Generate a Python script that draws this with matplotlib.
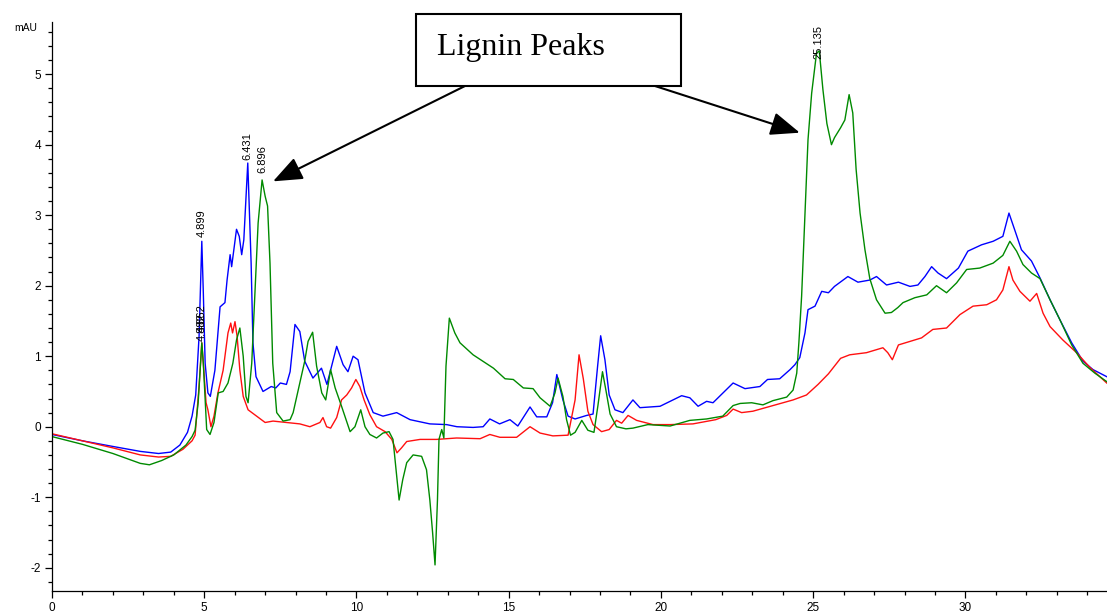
import numpy as np
import matplotlib
matplotlib.use("Agg")
import matplotlib.pyplot as plt
from matplotlib.patches import Rectangle
from matplotlib.ticker import MultipleLocator

plt.rcParams["axes.unicode_minus"] = False

# retention time (min) / absorbance (mAU)
blue_t = [0, 1.0, 2.0, 2.9, 3.5, 3.9, 4.2, 4.45, 4.6, 4.72, 4.83, 4.92, 4.97, 5.03, 5.12, 5.2,
          5.35, 5.52, 5.68, 5.75, 5.85, 5.9, 6.06, 6.15, 6.23, 6.3, 6.43, 6.54, 6.6, 6.7, 6.93,
          7.2, 7.35, 7.5, 7.7, 7.82, 7.98, 8.14, 8.3, 8.57, 8.85, 9.03, 9.35, 9.56, 9.72, 9.89,
          10.05, 10.28, 10.55, 10.87, 11.32, 11.76, 12.41, 12.96, 13.3, 13.83, 14.16, 14.38,
          14.7, 15.04, 15.3, 15.7, 15.92, 16.25, 16.44, 16.58, 16.78, 16.95, 17.18, 17.56,
          17.77, 17.92, 18.02, 18.16, 18.3, 18.49, 18.75, 19.08, 19.31, 19.97, 20.68, 20.95,
          21.22, 21.5, 21.71, 22.37, 22.76, 23.25, 23.5, 23.9, 24.24, 24.4, 24.56, 24.73, 24.83,
          25.06, 25.28, 25.5, 25.7, 26.14, 26.47, 26.86, 27.08, 27.41, 27.8, 28.18, 28.44,
          28.67, 28.89, 29.1, 29.38, 29.77, 30.08, 30.53, 30.91, 31.23, 31.43, 31.62, 31.84,
          32.17, 32.45, 32.78, 33.1, 33.49, 33.86, 34.19, 34.64]
blue_v = [-0.11, -0.2, -0.28, -0.35, -0.38, -0.36, -0.26, -0.08, 0.15, 0.45, 1.28, 2.63, 1.9,
          0.9, 0.48, 0.43, 0.8, 1.7, 1.76, 2.08, 2.44, 2.27, 2.8, 2.7, 2.44, 2.65, 3.74, 2.32,
          1.19, 0.71, 0.5, 0.57, 0.55, 0.62, 0.6, 0.78, 1.45, 1.35, 0.93, 0.69, 0.83, 0.6, 1.14,
          0.88, 0.78, 1.0, 0.95, 0.48, 0.2, 0.15, 0.2, 0.1, 0.04, 0.03, 0.0, -0.01, 0.0, 0.11,
          0.04, 0.1, 0.01, 0.28, 0.14, 0.14, 0.34, 0.74, 0.38, 0.15, 0.11, 0.16, 0.18, 0.86,
          1.29, 0.95, 0.45, 0.24, 0.2, 0.38, 0.27, 0.29, 0.44, 0.41, 0.29, 0.36, 0.34, 0.62,
          0.54, 0.57, 0.67, 0.68, 0.81, 0.88, 0.98, 1.33, 1.66, 1.71, 1.92, 1.9, 1.99, 2.13,
          2.05, 2.08, 2.13, 2.01, 2.05, 1.99, 2.01, 2.13, 2.27, 2.18, 2.1, 2.25, 2.49, 2.58,
          2.63, 2.7, 3.03, 2.79, 2.51, 2.35, 2.11, 1.8, 1.52, 1.19, 0.93, 0.81, 0.71]

red_t = [0, 1.0, 2.0, 2.9, 3.5, 3.9, 4.3, 4.6, 4.7, 4.83, 4.92, 4.97, 5.06, 5.12, 5.22, 5.32,
         5.45, 5.62, 5.78, 5.87, 5.93, 6.01, 6.08, 6.17, 6.28, 6.44, 6.72, 7.0, 7.26, 7.7, 8.14,
         8.47, 8.8, 8.9, 9.02, 9.15, 9.35, 9.51, 9.68, 9.84, 9.98, 10.11, 10.25, 10.44, 10.66,
         10.94, 11.16, 11.33, 11.48, 11.65, 12.09, 12.63, 13.29, 14.06, 14.38, 14.71, 15.26,
         15.7, 16.03, 16.45, 16.95, 17.18, 17.31, 17.45, 17.6, 17.77, 18.05, 18.3, 18.54,
         18.71, 18.92, 19.2, 19.74, 20.3, 21.05, 21.8, 22.16, 22.37, 22.65, 23.02, 23.68,
         24.34, 24.78, 25.16, 25.5, 25.9, 26.2, 26.75, 27.29, 27.45, 27.6, 27.8, 28.18, 28.56,
         28.93, 29.38, 29.82, 30.25, 30.7, 31.02, 31.23, 31.43, 31.56, 31.79, 32.12, 32.34,
         32.55, 32.78, 33.2, 33.65, 34.09, 34.64]
red_v = [-0.1, -0.2, -0.3, -0.4, -0.43, -0.42, -0.32, -0.2, -0.12, 0.57, 1.19, 0.9, 0.34, 0.24,
         0.0, 0.15, 0.48, 0.8, 1.33, 1.47, 1.33, 1.49, 1.28, 0.8, 0.43, 0.24, 0.15, 0.06, 0.08,
         0.06, 0.04, 0.0, 0.06, 0.13, 0.0, -0.02, 0.13, 0.38, 0.45, 0.55, 0.67, 0.57, 0.38,
         0.17, 0.0, -0.07, -0.18, -0.37, -0.3, -0.21, -0.18, -0.18, -0.16, -0.17, -0.11,
         -0.15, -0.15, 0.0, -0.09, -0.13, -0.12, 0.38, 1.02, 0.68, 0.22, 0.03, -0.07, -0.04,
         0.09, 0.05, 0.16, 0.09, 0.03, 0.03, 0.04, 0.1, 0.16, 0.25, 0.2, 0.22, 0.3, 0.38, 0.45,
         0.6, 0.75, 0.97, 1.02, 1.05, 1.12, 1.05, 0.95, 1.16, 1.21, 1.26, 1.38, 1.4, 1.59,
         1.71, 1.73, 1.8, 1.94, 2.27, 2.08, 1.92, 1.78, 1.89, 1.61, 1.42, 1.23, 1.05, 0.84,
         0.62]

green_t = [0, 1.0, 2.0, 2.9, 3.2, 3.6, 4.0, 4.4, 4.6, 4.7, 4.8, 4.92, 4.97, 5.08, 5.19, 5.32,
           5.46, 5.62, 5.78, 5.94, 6.06, 6.17, 6.28, 6.37, 6.44, 6.56, 6.67, 6.77, 6.9, 7.0,
           7.08, 7.16, 7.25, 7.38, 7.59, 7.82, 7.92, 8.14, 8.3, 8.41, 8.56, 8.69, 8.86, 8.99,
           9.15, 9.3, 9.51, 9.79, 9.95, 10.14, 10.28, 10.44, 10.66, 10.87, 11.07, 11.2, 11.3,
           11.4, 11.52, 11.65, 11.86, 12.14, 12.3, 12.41, 12.5, 12.58, 12.66, 12.71, 12.8,
           12.87, 12.94, 13.05, 13.23, 13.4, 13.83, 14.22, 14.5, 14.88, 15.15, 15.48, 15.8,
           16.03, 16.36, 16.52, 16.62, 16.78, 16.9, 17.03, 17.18, 17.4, 17.6, 17.8, 17.93,
           18.08, 18.2, 18.33, 18.54, 18.85, 19.08, 19.57, 20.3, 20.95, 21.5, 22.03, 22.37,
           22.6, 22.98, 23.35, 23.68, 24.13, 24.34, 24.46, 24.53, 24.62, 24.73, 24.83, 24.95,
           25.11, 25.2, 25.32, 25.45, 25.6, 25.7, 25.9, 26.04, 26.18, 26.3, 26.41, 26.54,
           26.7, 26.86, 27.08, 27.36, 27.57, 27.78, 27.95, 28.34, 28.73, 29.05, 29.38, 29.71,
           30.04, 30.47, 30.91, 31.23, 31.46, 31.68, 31.89, 32.17, 32.45, 32.78, 33.1, 33.49,
           33.86, 34.25, 34.64]
green_v = [-0.14, -0.25, -0.38, -0.52, -0.54, -0.48, -0.4, -0.26, -0.14, -0.05, 0.34, 1.19,
           0.9, -0.04, -0.11, 0.06, 0.48, 0.5, 0.62, 0.9, 1.23, 1.4, 1.0, 0.43, 0.34, 0.9, 1.94,
           2.89, 3.5, 3.27, 3.13, 2.32, 0.9, 0.2, 0.08, 0.1, 0.2, 0.62, 0.93, 1.21, 1.34, 0.86,
           0.48, 0.38, 0.81, 0.55, 0.29, -0.07, 0.0, 0.24, 0.0, -0.11, -0.16, -0.09, -0.07,
           -0.18, -0.61, -1.04, -0.75, -0.51, -0.4, -0.42, -0.61, -1.04, -1.5, -1.96, -1.04,
           -0.18, -0.04, -0.16, 0.86, 1.54, 1.33, 1.19, 1.02, 0.91, 0.83, 0.68, 0.67, 0.55,
           0.54, 0.41, 0.29, 0.48, 0.69, 0.43, 0.1, -0.12, -0.08, 0.09, -0.05, -0.08, 0.3,
           0.78, 0.5, 0.18, 0.0, -0.03, -0.02, 0.03, 0.01, 0.09, 0.11, 0.15, 0.3, 0.33, 0.34,
           0.31, 0.37, 0.42, 0.52, 0.76, 1.19, 1.85, 3.03, 4.07, 4.73, 5.3, 5.33, 4.78, 4.3,
           4.0, 4.1, 4.24, 4.35, 4.71, 4.45, 3.65, 3.03, 2.51, 2.1, 1.8, 1.61, 1.62, 1.69,
           1.76, 1.83, 1.87, 2.0, 1.9, 2.04, 2.23, 2.25, 2.32, 2.43, 2.63, 2.49, 2.3, 2.18,
           2.1, 1.8, 1.52, 1.16, 0.9, 0.76, 0.64]

# peak labels: (text, retention time, trace, extra lift in points)
peak_labels = [("4.862", 4.92, "red", 8), ("4.882", 4.92, "green", 1),
               ("4.899", 4.92, "blue", 3), ("6.431", 6.43, "blue", 2),
               ("6.896", 6.9, "green", 5), ("25.135", 25.16, "green", -5)]

traces = {"blue": (blue_t, blue_v, "#0000ff"),
          "red": (red_t, red_v, "#ff1010"),
          "green": (green_t, green_v, "#008a00")}

fig = plt.figure(figsize=(11.07, 6.12), dpi=100)
ax = fig.add_axes([52 / 1107, 21 / 612, 1 - 52 / 1107, (591 - 22) / 612])

for name in ["blue", "red", "green"]:
    t, v, c = traces[name]
    ax.plot(t, v, color=c, lw=1.0)

ax.set_xlim(0, 34.65)
ax.set_ylim(-2.33, 5.74)
ax.xaxis.set_major_locator(MultipleLocator(5))
ax.xaxis.set_minor_locator(MultipleLocator(1))
ax.yaxis.set_major_locator(MultipleLocator(1))
ax.yaxis.set_minor_locator(MultipleLocator(0.2))
for s in ["top", "right"]:
    ax.spines[s].set_visible(False)
for s in ["left", "bottom"]:
    ax.spines[s].set_linewidth(0.9)
ax.tick_params(which="major", direction="out", length=5, width=0.9, labelsize=8.5,
               pad=3)
ax.tick_params(which="minor", direction="out", length=3, width=0.9)
for lab in ax.get_xticklabels() + ax.get_yticklabels():
    lab.set_family("Liberation Sans")

fig.text(26 / 1107, 1 - 28 / 612, "mAU", ha="center", va="center", fontsize=7.5,
         family="Liberation Sans")

for txt, tp, name, lift in peak_labels:
    t, v, c = traces[name]
    yv = np.interp(tp, t, v)
    ax.annotate(txt, xy=(tp, yv), xytext=(0, lift), textcoords="offset points",
                rotation=90, ha="center", va="bottom", fontsize=8,
                family="Liberation Sans")

# "Lignin Peaks" call-out box and arrows
fig.patches.append(Rectangle((416 / 1107, 1 - 86 / 612), 265 / 1107, 72 / 612,
                             transform=fig.transFigure, fill=False, ec="black", lw=1.5))
fig.text(437 / 1107, 1 - 55 / 612, "Lignin Peaks", fontsize=23, family="Liberation Serif",
         va="baseline", ha="left")

arrow = dict(arrowstyle="-|>,head_length=1.0,head_width=0.4", color="black", lw=1.5,
             mutation_scale=18, shrinkA=0, shrinkB=0)
ax.annotate("", xy=(7.26, 3.48), xycoords="data", xytext=(465 / 1107, 1 - 86 / 612),
            textcoords="figure fraction", arrowprops=arrow)
ax.annotate("", xy=(24.56, 4.17), xycoords="data", xytext=(655 / 1107, 1 - 86 / 612),
            textcoords="figure fraction", arrowprops=arrow)

fig.savefig("out.png", dpi=100)
